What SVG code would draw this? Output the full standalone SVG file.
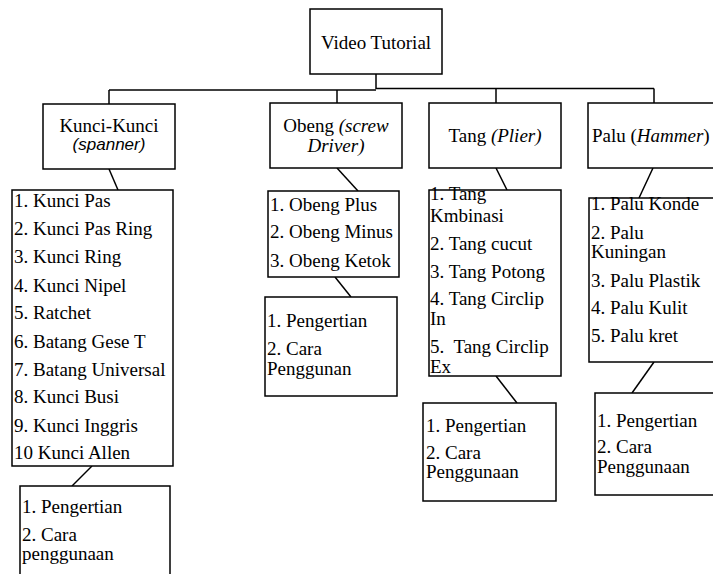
<svg xmlns="http://www.w3.org/2000/svg" width="713" height="574" viewBox="0 0 713 574">
<style>
rect{fill:#fff;stroke:#000;stroke-width:1.5}
.c line,.c polyline{stroke:#000;stroke-width:1.5;fill:none}
text{font-family:"Liberation Serif","Times New Roman",serif;font-size:19px;fill:#000;white-space:pre}
.it{font-style:italic}
.sans{font-family:"Liberation Sans",Arial,sans-serif;font-size:17px;font-style:italic}
</style>
<rect x="0" y="0" width="713" height="574" style="stroke:none"/>
<g class="c" id="connectors">
<line x1="376" y1="74" x2="376" y2="89"/>
<line x1="109" y1="90" x2="376" y2="90"/>
<line x1="376" y1="88.5" x2="654" y2="88.5"/>
<line x1="109" y1="90" x2="109" y2="104"/>
<line x1="337" y1="90" x2="337" y2="103"/>
<line x1="496" y1="88.5" x2="496" y2="103"/>
<line x1="654" y1="88.5" x2="654" y2="103"/>
<line x1="109" y1="169" x2="118" y2="190"/>
<line x1="92" y1="466" x2="72" y2="486"/>
<line x1="337" y1="168" x2="358" y2="191"/>
<line x1="335" y1="277" x2="351" y2="297"/>
<line x1="496" y1="168" x2="507" y2="190"/>
<line x1="496" y1="376" x2="517" y2="403"/>
<line x1="653" y1="168" x2="639" y2="198"/>
<line x1="654" y1="362" x2="632" y2="393"/>
</g>
<g id="video-tutorial">
<rect x="310" y="9" width="132" height="65"/>
<text x="376" y="49" text-anchor="middle">Video Tutorial</text>
</g>
<g id="kunci">
<rect x="43" y="104" width="132" height="65"/>
<text x="109" y="132" text-anchor="middle">Kunci-Kunci</text>
<text x="109" y="150" text-anchor="middle" class="sans">(spanner)</text>
</g>
<g id="obeng">
<rect x="270" y="103" width="132" height="65"/>
<text x="336" y="132" text-anchor="middle">Obeng <tspan class="it">(screw</tspan></text>
<text x="336" y="152" text-anchor="middle" class="it">Driver)</text>
</g>
<g id="tang">
<rect x="429" y="103" width="132" height="65"/>
<text x="495" y="142" text-anchor="middle">Tang <tspan class="it">(Plier)</tspan></text>
</g>
<g id="palu">
<rect x="588" y="103" width="132" height="65"/>
<text x="592" y="142">Palu (<tspan class="it">Hammer</tspan>)</text>
</g>
<g id="kunci-list">
<rect x="12" y="190" width="161" height="276"/>
<text x="14" y="207">1. Kunci Pas</text>
<text x="14" y="235">2. Kunci Pas Ring</text>
<text x="14" y="263">3. Kunci Ring</text>
<text x="14" y="292">4. Kunci Nipel</text>
<text x="14" y="319">5. Ratchet</text>
<text x="14" y="348">6. Batang Gese T</text>
<text x="14" y="376">7. Batang Universal</text>
<text x="14" y="403">8. Kunci Busi</text>
<text x="14" y="432">9. Kunci Inggris</text>
<text x="14" y="459">10 Kunci Allen</text>
</g>
<g id="kunci-info">
<rect x="20" y="486" width="150" height="100"/>
<text x="22" y="513">1. Pengertian</text>
<text x="22" y="541">2. Cara</text>
<text x="22" y="560">penggunaan</text>
</g>
<g id="obeng-list">
<rect x="268" y="191" width="131" height="86"/>
<text x="270" y="211">1. Obeng Plus</text>
<text x="270" y="238">2. Obeng Minus</text>
<text x="270" y="267">3. Obeng Ketok</text>
</g>
<g id="obeng-info">
<rect x="265" y="297" width="132" height="99"/>
<text x="267" y="327">1. Pengertian</text>
<text x="267" y="355">2. Cara</text>
<text x="267" y="375">Penggunan</text>
</g>
<g id="tang-list">
<rect x="429" y="190" width="132" height="186"/>
<text x="430" y="200">1. Tang</text>
<text x="430" y="222">Kmbinasi</text>
<text x="430" y="250">2. Tang cucut</text>
<text x="430" y="278">3. Tang Potong</text>
<text x="430" y="305">4. Tang Circlip</text>
<text x="430" y="325">In</text>
<text x="430" y="353">5.  Tang Circlip</text>
<text x="430" y="373">Ex</text>
</g>
<g id="tang-info">
<rect x="423" y="403" width="133" height="98"/>
<text x="426" y="432">1. Pengertian</text>
<text x="426" y="459">2. Cara</text>
<text x="426" y="478">Penggunaan</text>
</g>
<g id="palu-list">
<rect x="589" y="198" width="130" height="164"/>
<text x="591" y="210">1. Palu Konde</text>
<text x="591" y="239">2. Palu</text>
<text x="591" y="258">Kuningan</text>
<text x="591" y="287">3. Palu Plastik</text>
<text x="591" y="314">4. Palu Kulit</text>
<text x="591" y="342">5. Palu kret</text>
</g>
<g id="palu-info">
<rect x="595" y="393" width="125" height="102"/>
<text x="597" y="427">1. Pengertian</text>
<text x="597" y="453">2. Cara</text>
<text x="597" y="473">Penggunaan</text>
</g>
</svg>
